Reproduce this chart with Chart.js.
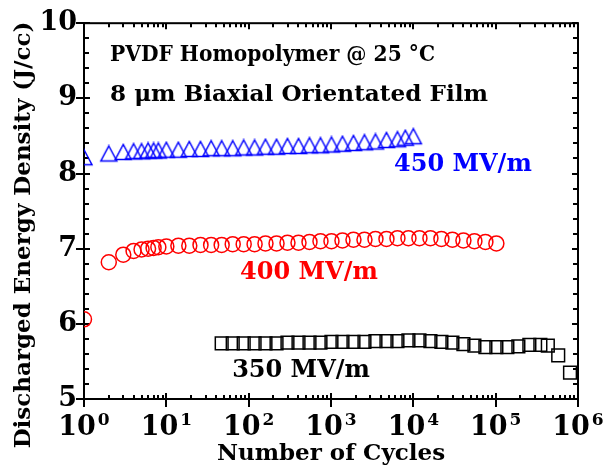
<!DOCTYPE html>
<html><head><meta charset="utf-8">
<script src="https://cdn.jsdelivr.net/npm/chart.js@4"></script>
<style>html,body{margin:0;padding:0;background:#fff;}canvas{display:block;}</style>
</head><body>
<canvas id="c" width="603" height="472"></canvas>
<script>
const FONT = '"DejaVu Serif", "Liberation Serif", serif';

// ---- data ----
const cycles450 = [1,2,3,4,5,6,7,8,10,14,19,26,35,47,64,87,118,160,218,296,403,548,745,1013,1378,1874,2549,3467,4715,6412,8000,10000];
const energy450 = [8.19,8.24,8.26,8.27,8.27,8.28,8.28,8.28,8.29,8.29,8.30,8.30,8.31,8.31,8.31,8.32,8.32,8.33,8.33,8.34,8.34,8.35,8.35,8.36,8.37,8.38,8.39,8.40,8.42,8.43,8.45,8.47];

const cycles400 = [1,2,3,4,5,6,7,8,10,14,19,26,35,47,64,87,118,160,218,296,403,548,745,1013,1378,1874,2549,3467,4715,6412,8720,11860,16130,21930,29830,40570,55170,75030,102000];
const energy400 = [6.06,6.82,6.92,6.97,6.99,7.00,7.01,7.02,7.03,7.04,7.04,7.05,7.05,7.05,7.06,7.06,7.06,7.07,7.07,7.08,7.08,7.09,7.10,7.10,7.11,7.12,7.12,7.13,7.13,7.14,7.14,7.14,7.14,7.13,7.12,7.11,7.10,7.09,7.07];

const cycles350 = [47,64,87,118,160,218,296,403,548,745,1013,1378,1874,2549,3467,4715,6412,8720,11860,16130,21930,29830,40570,55170,75030,102000,138700,188700,256600,349000,430000,575000,800000];
const energy350 = [5.74,5.74,5.74,5.74,5.74,5.74,5.75,5.75,5.75,5.75,5.76,5.76,5.76,5.76,5.77,5.77,5.77,5.78,5.78,5.77,5.76,5.75,5.73,5.71,5.69,5.69,5.69,5.70,5.72,5.72,5.71,5.58,5.35];

const xTickValues = [1,10,100,1000,10000,100000,1000000];
const xTickBase = '10';
const xTickExponents = ['0','1','2','3','4','5','6'];
const yTickValues = [5,6,7,8,9,10];
const seriesLabels = ['350 MV/m','400 MV/m','450 MV/m'];
const titleLines = ['PVDF Homopolymer @ 25 °C','8 μm Biaxial Orientated Film'];
const xTitle = 'Number of Cycles';
const yTitle = 'Discharged Energy Density (J/cc)';

const toPts = (xs, ys) => xs.map((v, i) => ({x: v, y: ys[i]}));

// open triangle marker (slightly taller than equilateral, like the reference)
function makeTriangle(color) {
  const c = document.createElement('canvas');
  c.width = 20; c.height = 22;
  const g = c.getContext('2d');
  g.strokeStyle = color; g.lineWidth = 1.5; g.lineJoin = 'miter';
  g.beginPath();
  g.moveTo(10, 1.5); g.lineTo(18, 16.5); g.lineTo(2, 16.5); g.closePath();
  g.stroke();
  return c;
}

function fitText(ctx, text, x0, y0, width) {
  const w = ctx.measureText(text).width;
  ctx.save();
  ctx.translate(x0, y0);
  ctx.scale(width / w, 1);
  ctx.fillText(text, 0, 0);
  ctx.restore();
}

const decorPlugin = {
  id: 'decor',
  beforeDatasetsDraw(chart) {
    const {ctx, chartArea: a, scales: {x, y}} = chart;
    ctx.save();
    ctx.strokeStyle = '#000';
    ctx.lineWidth = 2;
    ctx.strokeRect(a.left, a.top, a.right - a.left, a.bottom - a.top);
    ctx.beginPath();
    for (let i = 0; i < xTickValues.length; i++) {
      const v = xTickValues[i];
      const px = Math.round(x.getPixelForValue(v));
      ctx.moveTo(px, a.bottom - 6); ctx.lineTo(px, a.bottom + 8);
      ctx.moveTo(px, a.top); ctx.lineTo(px, a.top + 6);
      if (i < xTickValues.length - 1) {
        for (let m = 2; m <= 9; m++) {
          const mp = Math.round(x.getPixelForValue(v * m));
          ctx.moveTo(mp, a.bottom - 4); ctx.lineTo(mp, a.bottom);
          ctx.moveTo(mp, a.top); ctx.lineTo(mp, a.top + 4);
        }
      }
    }
    for (let k = 0; k <= 25; k++) {
      const v = y.min + k * 0.2;
      const py = Math.round(y.getPixelForValue(v));
      if (k % 5 === 0) {
        ctx.moveTo(a.left - 8, py); ctx.lineTo(a.left + 6, py);
        ctx.moveTo(a.right - 6, py); ctx.lineTo(a.right, py);
      } else {
        ctx.moveTo(a.left, py); ctx.lineTo(a.left + 5, py);
        ctx.moveTo(a.right - 5, py); ctx.lineTo(a.right, py);
      }
    }
    ctx.stroke();

    ctx.fillStyle = '#000';
    ctx.textBaseline = 'alphabetic';
    ctx.textAlign = 'left';
    const baseFont = 'bold 27px ' + FONT;
    const expFont = 'bold 17px ' + FONT;
    xTickValues.forEach((v, i) => {
      const px = x.getPixelForValue(v);
      ctx.font = baseFont;
      const wb = ctx.measureText(xTickBase).width;
      ctx.font = expFont;
      const we = ctx.measureText(xTickExponents[i]).width;
      const total = wb + 2 + we;
      const x0 = px - total / 2;
      ctx.font = baseFont;
      ctx.fillText(xTickBase, x0, a.bottom + 36);
      ctx.font = expFont;
      ctx.fillText(xTickExponents[i], x0 + wb + 2, a.bottom + 26);
    });

    ctx.save();
    ctx.translate(24, 235);
    ctx.rotate(-Math.PI / 2);
    ctx.font = 'bold 23px ' + FONT;
    ctx.textAlign = 'center';
    ctx.textBaseline = 'middle';
    ctx.fillText(yTitle, 0, 0);
    ctx.restore();
    ctx.restore();
  },
  beforeDatasetDraw(chart) {
    const {ctx, chartArea: a} = chart;
    ctx.save();
    ctx.beginPath();
    ctx.rect(a.left, a.top - 2, a.right - a.left + 2, a.bottom - a.top + 4);
    ctx.clip();
  },
  afterDatasetDraw(chart) {
    chart.ctx.restore();
  },
  afterDraw(chart) {
    const {ctx, scales: {x, y}} = chart;
    ctx.save();
    ctx.textAlign = 'left';
    ctx.textBaseline = 'alphabetic';
    ctx.fillStyle = '#000';
    ctx.font = 'bold 22px ' + FONT;
    const tx = x.getPixelForValue(2.07);
    fitText(ctx, titleLines[0], tx, y.getPixelForValue(9.5), 325);
    fitText(ctx, titleLines[1], tx, y.getPixelForValue(8.97), 378);
    ctx.font = 'bold 24px ' + FONT;
    ctx.fillStyle = '#0000ff';
    ctx.fillText(seriesLabels[2], x.getPixelForValue(5820), y.getPixelForValue(8.04));
    ctx.fillStyle = '#ff0000';
    ctx.fillText(seriesLabels[1], x.getPixelForValue(78.5), y.getPixelForValue(6.59));
    ctx.fillStyle = '#000000';
    ctx.fillText(seriesLabels[0], x.getPixelForValue(63), y.getPixelForValue(5.29));
    ctx.restore();
  }
};

new Chart(document.getElementById('c'), {
  type: 'scatter',
  data: {
    datasets: [
      {label: seriesLabels[0], data: toPts(cycles350, energy350), pointStyle: 'rect', pointRadius: 9, clip: false,
       pointBorderColor: '#000000', pointBackgroundColor: 'rgba(0,0,0,0)', pointBorderWidth: 1.5, showLine: false},
      {label: seriesLabels[1], data: toPts(cycles400, energy400), pointStyle: 'circle', pointRadius: 7.5, clip: false,
       pointBorderColor: '#ff0000', pointBackgroundColor: 'rgba(0,0,0,0)', pointBorderWidth: 1.5, showLine: false},
      {label: seriesLabels[2], data: toPts(cycles450, energy450), pointStyle: makeTriangle('#0000ff'), pointRadius: 10, clip: false,
       pointBorderColor: '#0000ff', pointBackgroundColor: 'rgba(0,0,0,0)', pointBorderWidth: 1.5, showLine: false}
    ]
  },
  options: {
    responsive: false,
    animation: false,
    layout: {padding: {top: 19, right: 25, left: 0, bottom: 0}},
    plugins: {legend: {display: false}, tooltip: {enabled: false}},
    scales: {
      x: {
        type: 'logarithmic', min: 1, max: 1000000,
        grid: {display: false, drawTicks: false}, border: {display: false},
        ticks: {display: false},
        title: {display: true, text: xTitle, color: '#000', font: {family: FONT, size: 23, weight: 'bold'}, padding: {top: 0, bottom: 4}},
        afterFit(s) { s.height = 73; }
      },
      y: {
        type: 'linear', min: 5, max: 10,
        afterBuildTicks(s) { s.ticks = yTickValues.map(v => ({value: v})); },
        grid: {display: false, drawTicks: false}, border: {display: false},
        ticks: {color: '#000', padding: 7, font: {family: FONT, size: 27, weight: 'bold'}},
        afterFit(s) { s.width = 84; }
      }
    }
  },
  plugins: [decorPlugin]
});
</script>
</body></html>
